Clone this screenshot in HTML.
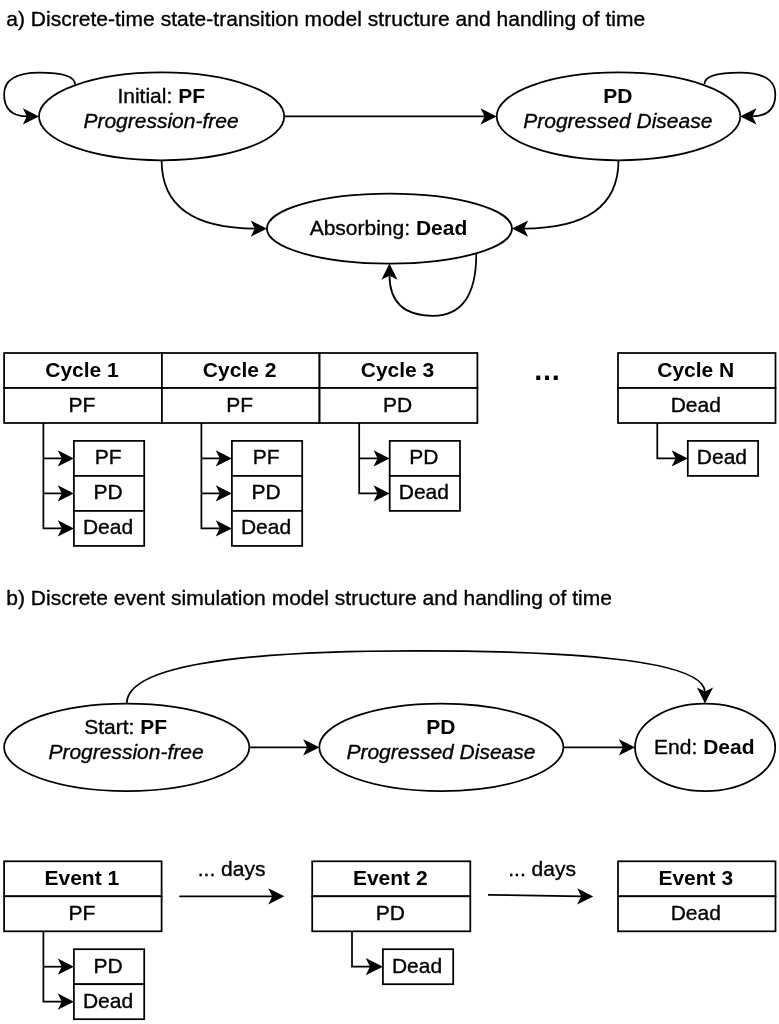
<!DOCTYPE html>
<html lang="en">
<head>
<meta charset="utf-8">
<title>State-transition and discrete event simulation model structures</title>
<style>
html,body{margin:0;padding:0;background:#fff}
body{width:779px;height:1024px;overflow:hidden}
svg{display:block;filter:grayscale(1)}
text{font-family:"Liberation Sans",Arial,Helvetica,sans-serif;font-size:21px;fill:#000;stroke:#000;stroke-width:.35px;stroke-linejoin:round}
.b{font-weight:bold;stroke:none}
.i{font-style:italic}
.s{fill:none;stroke:#000;stroke-width:1.75;stroke-miterlimit:10}
.f{fill:#fff;stroke:#000;stroke-width:1.75}
</style>
</head>
<body>
<svg width="779" height="1024" viewBox="0 0 779 1024">
<rect x="0" y="0" width="779" height="1024" fill="#fff"/>
<text x="6.20" y="26.00" text-anchor="start" textLength="639.0">a) Discrete-time state-transition model structure and handling of time</text>
<path d="M37.04 116.40L24.79 122.53L27.86 116.40L24.79 110.28Z" fill="#000" stroke="#000" stroke-width="1.75" stroke-miterlimit="10"/>
<path d="M75.00 84.50Q75.00 72.60 39.55 72.60Q4.10 72.60 4.10 94.50Q4.10 116.40 27.86 116.40" class="s"/>
<path d="M742.26 116.40L754.51 110.28L751.44 116.40L754.51 122.53Z" fill="#000" stroke="#000" stroke-width="1.75" stroke-miterlimit="10"/>
<path d="M704.50 84.00Q704.50 72.60 739.90 72.60Q775.30 72.60 775.30 94.50Q775.30 116.40 751.44 116.40" class="s"/>
<path d="M494.74 116.40L482.49 122.53L485.56 116.40L482.49 110.28Z" fill="#000" stroke="#000" stroke-width="1.75" stroke-miterlimit="10"/>
<path d="M284.20 116.40L485.56 116.40" class="s"/>
<path d="M264.94 228.60L252.69 234.73L255.76 228.60L252.69 222.48Z" fill="#000" stroke="#000" stroke-width="1.75" stroke-miterlimit="10"/>
<path d="M161.60 160.30Q161.60 228.60 255.76 228.60" class="s"/>
<path d="M513.96 228.60L526.21 222.48L523.14 228.60L526.21 234.73Z" fill="#000" stroke="#000" stroke-width="1.75" stroke-miterlimit="10"/>
<path d="M618.50 160.30Q618.50 228.60 523.14 228.60" class="s"/>
<path d="M389.45 265.56L395.57 277.81L389.45 274.74L383.32 277.81Z" fill="#000" stroke="#000" stroke-width="1.75" stroke-miterlimit="10"/>
<path d="M476.30 253.80Q476.30 315.80 432.88 315.80Q389.45 315.80 389.45 274.74" class="s"/>
<ellipse cx="161.60" cy="116.40" rx="122.60" ry="43.90" class="f"/>
<ellipse cx="618.50" cy="116.40" rx="121.80" ry="43.90" class="f"/>
<ellipse cx="389.45" cy="228.60" rx="122.55" ry="35.00" class="f"/>
<text x="161.20" y="103.00" text-anchor="middle">Initial: <tspan class="b">PF</tspan></text>
<text x="161.00" y="128.00" text-anchor="middle"><tspan class="i">Progression-free</tspan></text>
<text x="617.80" y="103.00" text-anchor="middle"><tspan class="b">PD</tspan></text>
<text x="617.80" y="128.00" text-anchor="middle"><tspan class="i">Progressed Disease</tspan></text>
<text x="388.45" y="235.00" text-anchor="middle">Absorbing: <tspan class="b">Dead</tspan></text>
<rect x="4.10" y="353.00" width="157.80" height="35.00" class="f"/>
<rect x="4.10" y="388.00" width="157.80" height="35.00" class="f"/>
<text x="82.00" y="377.00" text-anchor="middle"><tspan class="b">Cycle 1</tspan></text>
<text x="82.00" y="412.00" text-anchor="middle">PF</text>
<rect x="73.90" y="440.90" width="70.30" height="35.00" class="f"/>
<text x="108.05" y="464.00" text-anchor="middle">PF</text>
<path d="M71.94 458.40L59.69 464.52L62.76 458.40L59.69 452.27Z" fill="#000" stroke="#000" stroke-width="1.75" stroke-miterlimit="10"/>
<path d="M43.40 458.40L62.76 458.40" class="s"/>
<rect x="73.90" y="475.90" width="70.30" height="35.00" class="f"/>
<text x="108.05" y="499.00" text-anchor="middle">PD</text>
<path d="M71.94 493.40L59.69 499.52L62.76 493.40L59.69 487.27Z" fill="#000" stroke="#000" stroke-width="1.75" stroke-miterlimit="10"/>
<path d="M43.40 493.40L62.76 493.40" class="s"/>
<rect x="73.90" y="510.90" width="70.30" height="35.00" class="f"/>
<text x="108.05" y="534.00" text-anchor="middle">Dead</text>
<path d="M71.94 528.40L59.69 534.52L62.76 528.40L59.69 522.27Z" fill="#000" stroke="#000" stroke-width="1.75" stroke-miterlimit="10"/>
<path d="M43.40 423.00L43.40 528.40L62.76 528.40" class="s"/>
<rect x="161.90" y="353.00" width="157.50" height="35.00" class="f"/>
<rect x="161.90" y="388.00" width="157.50" height="35.00" class="f"/>
<text x="239.65" y="377.00" text-anchor="middle"><tspan class="b">Cycle 2</tspan></text>
<text x="239.65" y="412.00" text-anchor="middle">PF</text>
<rect x="231.90" y="440.90" width="70.30" height="35.00" class="f"/>
<text x="266.05" y="464.00" text-anchor="middle">PF</text>
<path d="M229.94 458.40L217.69 464.52L220.76 458.40L217.69 452.27Z" fill="#000" stroke="#000" stroke-width="1.75" stroke-miterlimit="10"/>
<path d="M201.40 458.40L220.76 458.40" class="s"/>
<rect x="231.90" y="475.90" width="70.30" height="35.00" class="f"/>
<text x="266.05" y="499.00" text-anchor="middle">PD</text>
<path d="M229.94 493.40L217.69 499.52L220.76 493.40L217.69 487.27Z" fill="#000" stroke="#000" stroke-width="1.75" stroke-miterlimit="10"/>
<path d="M201.40 493.40L220.76 493.40" class="s"/>
<rect x="231.90" y="510.90" width="70.30" height="35.00" class="f"/>
<text x="266.05" y="534.00" text-anchor="middle">Dead</text>
<path d="M229.94 528.40L217.69 534.52L220.76 528.40L217.69 522.27Z" fill="#000" stroke="#000" stroke-width="1.75" stroke-miterlimit="10"/>
<path d="M201.40 423.00L201.40 528.40L220.76 528.40" class="s"/>
<rect x="319.60" y="353.00" width="157.80" height="35.00" class="f"/>
<rect x="319.60" y="388.00" width="157.80" height="35.00" class="f"/>
<text x="397.50" y="377.00" text-anchor="middle"><tspan class="b">Cycle 3</tspan></text>
<text x="397.50" y="412.00" text-anchor="middle">PD</text>
<rect x="389.70" y="440.90" width="70.30" height="35.00" class="f"/>
<text x="423.85" y="464.00" text-anchor="middle">PD</text>
<path d="M387.74 458.40L375.49 464.52L378.56 458.40L375.49 452.27Z" fill="#000" stroke="#000" stroke-width="1.75" stroke-miterlimit="10"/>
<path d="M359.20 458.40L378.56 458.40" class="s"/>
<rect x="389.70" y="475.90" width="70.30" height="35.00" class="f"/>
<text x="423.85" y="499.00" text-anchor="middle">Dead</text>
<path d="M387.74 493.40L375.49 499.52L378.56 493.40L375.49 487.27Z" fill="#000" stroke="#000" stroke-width="1.75" stroke-miterlimit="10"/>
<path d="M359.20 423.00L359.20 493.40L378.56 493.40" class="s"/>
<rect x="618.00" y="353.00" width="157.50" height="35.00" class="f"/>
<rect x="618.00" y="388.00" width="157.50" height="35.00" class="f"/>
<text x="695.75" y="377.00" text-anchor="middle"><tspan class="b">Cycle N</tspan></text>
<text x="695.75" y="412.00" text-anchor="middle">Dead</text>
<rect x="687.80" y="440.90" width="70.30" height="35.00" class="f"/>
<text x="721.95" y="464.00" text-anchor="middle">Dead</text>
<path d="M685.84 458.40L673.59 464.52L676.66 458.40L673.59 452.27Z" fill="#000" stroke="#000" stroke-width="1.75" stroke-miterlimit="10"/>
<path d="M657.30 423.00L657.30 458.40L676.66 458.40" class="s"/>
<text x="534.30" y="380.00" text-anchor="start" style="font-size:29px;letter-spacing:0.64px"><tspan class="b">...</tspan></text>
<text x="6.20" y="605.00" text-anchor="start" textLength="605.8">b) Discrete event simulation model structure and handling of time</text>
<path d="M705.00 701.64L698.88 689.39L705.00 692.46L711.12 689.39Z" fill="#000" stroke="#000" stroke-width="1.75" stroke-miterlimit="10"/>
<path d="M126.70 703.60Q126.70 650.90 415.85 650.90Q705.00 650.90 705.00 692.46" class="s"/>
<path d="M317.34 747.35L305.09 753.48L308.16 747.35L305.09 741.23Z" fill="#000" stroke="#000" stroke-width="1.75" stroke-miterlimit="10"/>
<path d="M249.30 747.35L308.16 747.35" class="s"/>
<path d="M633.04 747.35L620.79 753.48L623.86 747.35L620.79 741.23Z" fill="#000" stroke="#000" stroke-width="1.75" stroke-miterlimit="10"/>
<path d="M563.40 747.35L623.86 747.35" class="s"/>
<ellipse cx="126.70" cy="747.35" rx="122.60" ry="43.75" class="f"/>
<ellipse cx="441.35" cy="747.35" rx="122.05" ry="43.75" class="f"/>
<ellipse cx="705.10" cy="747.35" rx="70.10" ry="43.75" class="f"/>
<text x="125.70" y="734.00" text-anchor="middle">Start: <tspan class="b">PF</tspan></text>
<text x="126.00" y="759.00" text-anchor="middle"><tspan class="i">Progression-free</tspan></text>
<text x="440.95" y="734.00" text-anchor="middle"><tspan class="b">PD</tspan></text>
<text x="440.95" y="759.00" text-anchor="middle"><tspan class="i">Progressed Disease</tspan></text>
<text x="704.30" y="754.00" text-anchor="middle">End: <tspan class="b">Dead</tspan></text>
<rect x="4.10" y="861.30" width="157.50" height="35.00" class="f"/>
<rect x="4.10" y="896.30" width="157.50" height="35.00" class="f"/>
<text x="81.85" y="885.00" text-anchor="middle"><tspan class="b">Event 1</tspan></text>
<text x="81.85" y="920.00" text-anchor="middle">PF</text>
<rect x="73.90" y="949.20" width="70.30" height="35.00" class="f"/>
<text x="108.05" y="973.00" text-anchor="middle">PD</text>
<path d="M71.94 966.70L59.69 972.82L62.76 966.70L59.69 960.57Z" fill="#000" stroke="#000" stroke-width="1.75" stroke-miterlimit="10"/>
<path d="M43.40 966.70L62.76 966.70" class="s"/>
<rect x="73.90" y="984.20" width="70.30" height="35.00" class="f"/>
<text x="108.05" y="1008.00" text-anchor="middle">Dead</text>
<path d="M71.94 1001.70L59.69 1007.82L62.76 1001.70L59.69 995.57Z" fill="#000" stroke="#000" stroke-width="1.75" stroke-miterlimit="10"/>
<path d="M43.40 931.30L43.40 1001.70L62.76 1001.70" class="s"/>
<rect x="312.20" y="861.30" width="158.10" height="35.00" class="f"/>
<rect x="312.20" y="896.30" width="158.10" height="35.00" class="f"/>
<text x="390.25" y="885.00" text-anchor="middle"><tspan class="b">Event 2</tspan></text>
<text x="390.25" y="920.00" text-anchor="middle">PD</text>
<rect x="382.90" y="949.20" width="70.30" height="35.00" class="f"/>
<text x="417.05" y="973.00" text-anchor="middle">Dead</text>
<path d="M380.94 966.70L367.69 973.32L371.01 966.70L367.69 960.07Z" fill="#000" stroke="#000" stroke-width="1.75" stroke-miterlimit="10"/>
<path d="M352.00 931.30L352.00 966.70L371.01 966.70" class="s"/>
<rect x="618.00" y="861.30" width="157.50" height="35.00" class="f"/>
<rect x="618.00" y="896.30" width="157.50" height="35.00" class="f"/>
<text x="695.75" y="885.00" text-anchor="middle"><tspan class="b">Event 3</tspan></text>
<text x="695.75" y="920.00" text-anchor="middle">Dead</text>
<path d="M282.44 896.30L270.19 902.42L273.26 896.30L270.19 890.17Z" fill="#000" stroke="#000" stroke-width="1.75" stroke-miterlimit="10"/>
<path d="M179.30 896.30L273.26 896.30" class="s"/>
<path d="M591.34 896.57L578.99 902.48L582.16 896.41L579.20 890.23Z" fill="#000" stroke="#000" stroke-width="1.75" stroke-miterlimit="10"/>
<path d="M488.00 894.80L582.16 896.41" class="s"/>
<text x="231.60" y="876.00" text-anchor="middle">... days</text>
<text x="542.10" y="876.00" text-anchor="middle">... days</text>
</svg>
</body>
</html>
